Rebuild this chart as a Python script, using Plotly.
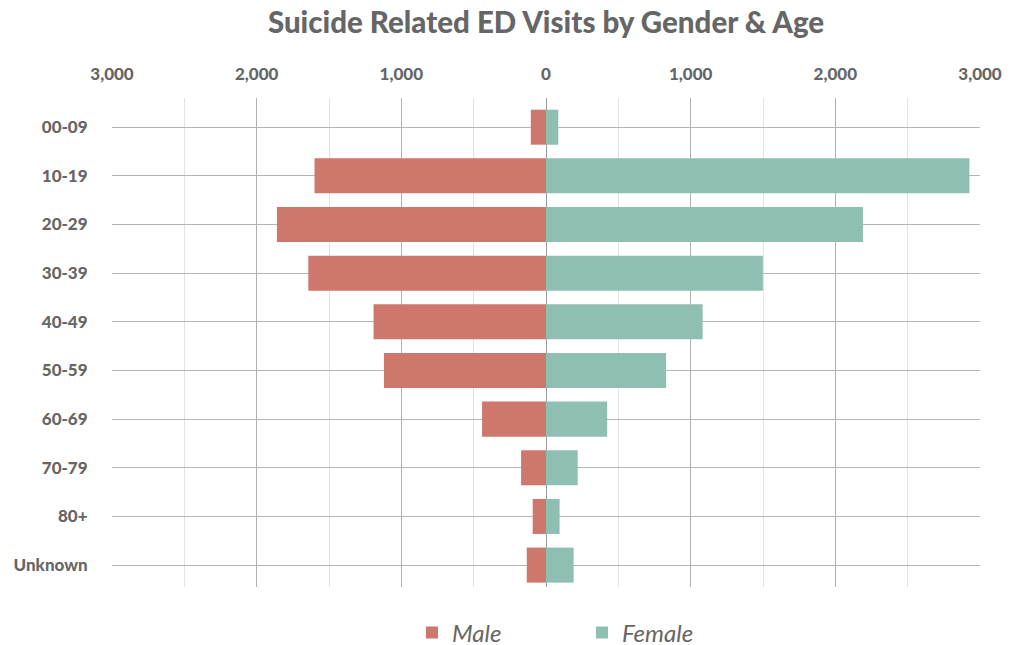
import plotly.graph_objects as go

age_groups = ["00-09", "10-19", "20-29", "30-39", "40-49", "50-59", "60-69", "70-79", "80+", "Unknown"]
male_visits = [105, 1600, 1860, 1643, 1192, 1120, 442, 172, 92, 133]
female_visits = [85, 2927, 2191, 1499, 1083, 830, 423, 219, 94, 191]
tick_values = [-3000, -2000, -1000, 0, 1000, 2000, 3000]
tick_labels = ["3,000", "2,000", "1,000", "0", "1,000", "2,000", "3,000"]

male_color = "#CE776D"
female_color = "#8FBFB2"
text_color = "#666666"
font_family = "Lato, 'Open Sans', sans-serif"

fig = go.Figure()
fig.add_trace(go.Bar(
    y=age_groups, x=[-v for v in male_visits], orientation="h", name="Male",
    marker=dict(color=male_color, line=dict(width=0)),
    customdata=male_visits, hovertemplate="%{y}: %{customdata:,}<extra>Male</extra>",
))
fig.add_trace(go.Bar(
    y=age_groups, x=female_visits, orientation="h", name="Female",
    marker=dict(color=female_color, line=dict(width=0)),
    hovertemplate="%{y}: %{x:,}<extra>Female</extra>",
))

fig.update_layout(
    width=1007, height=637,
    margin=dict(l=104, r=35, t=90, b=58, autoexpand=False),
    paper_bgcolor="white", plot_bgcolor="white",
    barmode="relative", bargap=0.28,
    font=dict(family=font_family, color=text_color),
    title=dict(text="Suicide Related ED Visits by Gender & Age", x=0.5, xref="paper",
               xanchor="center", y=0.977, yanchor="middle",
               font=dict(size=29.5, family=font_family, color=text_color, weight=900)),
    legend=dict(orientation="h", x=0.3456, xanchor="left", y=-0.094, yanchor="middle",
                font=dict(size=24, family=font_family, color=text_color, style="italic"),
                entrywidth=125, entrywidthmode="pixels", itemclick=False),
    xaxis=dict(
        side="top", range=[-3000, 3000], tickvals=tick_values, ticktext=tick_labels,
        tickfont=dict(size=17, color=text_color, weight=900),
        ticks="outside", ticklen=10, tickcolor="rgba(0,0,0,0)",
        showgrid=True, gridcolor="#b0b0b0", gridwidth=1,
        minor=dict(dtick=500, tick0=0, showgrid=True, gridcolor="#e2e2e2", gridwidth=1),
        zeroline=True, zerolinecolor="#999999", zerolinewidth=1,
        showline=False, fixedrange=True, automargin=False,
    ),
    yaxis=dict(
        range=[9.45, -0.6], type="category",
        tickfont=dict(size=17, color=text_color, weight=900),
        ticks="outside", ticklen=20, tickcolor="rgba(0,0,0,0)",
        showgrid=True, gridcolor="#b5b5b5", gridwidth=1,
        showline=False, fixedrange=True, automargin=False,
    ),
)

fig.write_html("out.html")
